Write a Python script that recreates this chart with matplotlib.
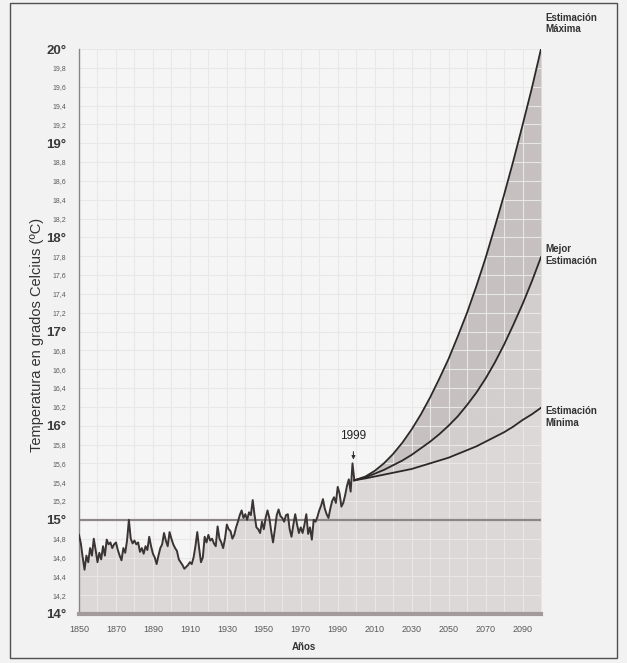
import matplotlib
matplotlib.use('Agg')
import matplotlib.pyplot as plt
from matplotlib.patches import Rectangle
from matplotlib.path import Path
import numpy as np

plt.rcParams['font.family'] = ['Liberation Sans', 'DejaVu Sans']

# ---------------- data ----------------
years_hist = list(range(1850, 2000))
temp_hist = [
    14.84, 14.75, 14.60, 14.47, 14.62, 14.55, 14.70, 14.62, 14.80, 14.68,  # 1850s
    14.55, 14.65, 14.58, 14.72, 14.62, 14.79, 14.74, 14.76, 14.70, 14.74,  # 1860s
    14.76, 14.68, 14.62, 14.57, 14.70, 14.65, 14.78, 15.00, 14.80, 14.75,  # 1870s
    14.78, 14.74, 14.76, 14.66, 14.70, 14.64, 14.72, 14.68, 14.82, 14.72,  # 1880s
    14.64, 14.60, 14.53, 14.62, 14.70, 14.74, 14.86, 14.78, 14.72, 14.87,  # 1890s
    14.80, 14.74, 14.70, 14.67, 14.58, 14.55, 14.52, 14.48, 14.50, 14.52,  # 1900s
    14.55, 14.53, 14.60, 14.72, 14.87, 14.70, 14.55, 14.60, 14.82, 14.76,  # 1910s
    14.84, 14.78, 14.80, 14.75, 14.72, 14.93, 14.80, 14.76, 14.70, 14.80,  # 1920s
    14.95, 14.90, 14.88, 14.80, 14.84, 14.92, 14.98, 15.05, 15.10, 15.02,  # 1930s
    15.06, 15.00, 15.08, 15.05, 15.21, 15.05, 14.92, 14.90, 14.86, 14.98,  # 1940s
    14.90, 15.02, 15.10, 15.02, 14.88, 14.76, 14.90, 15.05, 15.11, 15.04,  # 1950s
    15.02, 14.98, 15.05, 15.06, 14.90, 14.82, 14.95, 15.06, 14.95, 14.86,  # 1960s
    14.92, 14.86, 14.95, 15.06, 14.85, 14.92, 14.79, 15.00, 14.98, 15.03,  # 1970s
    15.10, 15.15, 15.22, 15.12, 15.06, 15.02, 15.12, 15.20, 15.24, 15.18,  # 1980s
    15.35, 15.28, 15.14, 15.18, 15.26, 15.36, 15.43, 15.30, 15.60, 15.42,  # 1990s
]

proj_years = [1999, 2005, 2010, 2015, 2020, 2025, 2030, 2035, 2040, 2045, 2050,
              2055, 2060, 2065, 2070, 2075, 2080, 2085, 2090, 2095, 2100]
est_max = [15.42, 15.46, 15.52, 15.60, 15.70, 15.82, 15.96, 16.12, 16.30, 16.50, 16.71,
           16.95, 17.20, 17.48, 17.78, 18.11, 18.45, 18.81, 19.19, 19.58, 20.00]
est_best = [15.42, 15.45, 15.49, 15.53, 15.58, 15.63, 15.69, 15.76, 15.83, 15.91, 16.00,
            16.10, 16.22, 16.35, 16.50, 16.67, 16.86, 17.07, 17.29, 17.53, 17.79]
est_min = [15.42, 15.44, 15.46, 15.48, 15.50, 15.52, 15.54, 15.57, 15.60, 15.63, 15.66,
           15.70, 15.74, 15.78, 15.83, 15.88, 15.93, 15.99, 16.06, 16.12, 16.19]

x_tick_years = list(range(1850, 2091, 20))
y_ticks = [round(14 + 0.2 * i, 1) for i in range(31)]
baseline = 15.0

# ---------------- figure ----------------
W, H = 627, 663
fig = plt.figure(figsize=(W / 100, H / 100), dpi=100)
fig.patch.set_facecolor('#f3f2f2')
fig.patches.append(Rectangle((10 / W, 1 - 658 / H), (617 - 10) / W, (658 - 3) / H,
                             transform=fig.transFigure, fill=False,
                             edgecolor='#505050', linewidth=1.0))

ax = fig.add_axes([79 / W, 1 - 614 / H, (541 - 79) / W, (614 - 49) / H])
ax.set_facecolor('#f6f5f5')
ax.set_xlim(1850, 2100)
ax.set_ylim(14, 20)

# grid (behind fills)
ax.set_xticks(x_tick_years)
ax.set_xticks(list(range(1860, 2100, 20)), minor=True)
ax.set_yticks(y_ticks)
ax.grid(which='both', axis='both', color='#e9e7e7', linewidth=0.8, zorder=0)
ax.set_axisbelow(True)

# fills
ax.fill_between(years_hist, 14, temp_hist, color='#dcd8d8', linewidth=0, zorder=1)
ax.fill_between(proj_years, 14, est_min, color='#dcd8d8', linewidth=0, zorder=1)
ax.fill_between(proj_years, est_min, est_best, color='#d3cece', linewidth=0, zorder=1)
ax.fill_between(proj_years, est_best, est_max, color='#c6c0c0', linewidth=0, zorder=1)

# lighter grid lines over filled area (clipped to filled region)
verts = [(1850, 14)] + list(zip(years_hist, temp_hist)) + list(zip(proj_years, est_max)) + [(2100, 14), (1850, 14)]
clip = Path(verts, closed=True)
gx = list(range(1860, 2100, 10))
vl = ax.vlines(gx, 14, 20, colors='#e9e6e6', linewidth=0.8, zorder=1.5)
hl = ax.hlines(y_ticks, 1850, 2100, colors='#e9e6e6', linewidth=0.8, zorder=1.5)
vl.set_clip_path(clip, ax.transData)
hl.set_clip_path(clip, ax.transData)

# 15 degree line
ax.axhline(baseline, color='#8c8686', linewidth=1.6, zorder=2)

# data lines
ax.plot(years_hist, temp_hist, color='#3a3434', linewidth=1.4, zorder=3)
ax.plot(proj_years, est_max, color='#2c2828', linewidth=1.3, zorder=3)
ax.plot(proj_years, est_best, color='#2c2828', linewidth=1.3, zorder=3)
ax.plot(proj_years, est_min, color='#2c2828', linewidth=1.3, zorder=3)

# spines
for s in ('top', 'right'):
    ax.spines[s].set_visible(False)
ax.spines['left'].set_color('#8a8484')
ax.spines['left'].set_linewidth(1.0)
ax.spines['bottom'].set_color('#a39b9b')
ax.spines['bottom'].set_linewidth(3.0)

# tick labels
ax.tick_params(axis='both', which='both', length=0)
ax.tick_params(axis='x', pad=8, labelsize=6.5, labelcolor='#5a5a5a')
ax.set_xticklabels([str(y) for y in x_tick_years])
ylabels = []
for v in y_ticks:
    if abs(v - round(v)) < 1e-6:
        ylabels.append(f"{int(round(v))}°")
    else:
        ylabels.append(f"{v:.1f}".replace('.', ','))
ax.set_yticklabels(ylabels)
ax.tick_params(axis='y', pad=9)
for lab, v in zip(ax.get_yticklabels(), y_ticks):
    if abs(v - round(v)) < 1e-6:
        lab.set_fontsize(9.5)
        lab.set_fontweight('bold')
        lab.set_color('#3a3a3a')
    else:
        lab.set_fontsize(5)
        lab.set_color('#5a5a5a')

# axis titles
fig.text(37 / W, 1 - 335 / H, 'Temperatura en grados Celcius (ºC)', rotation=90,
         ha='center', va='center', fontsize=10.5, color='#333333')
fig.text(304 / W, 1 - 647 / H, 'Años', ha='center', va='center',
         fontsize=7, fontweight='bold', color='#333333')

# annotations
ax.annotate('1999', xy=(1998.5, 15.64), xytext=(1998.5, 15.89),
            ha='center', va='center', fontsize=8.5, color='#222222',
            arrowprops=dict(arrowstyle='-|>', color='#333333', lw=0.8,
                            mutation_scale=5, shrinkA=5, shrinkB=0),
            zorder=4)
ax.text(2102.4, 20.27, 'Estimación\nMáxima', ha='left', va='center', fontsize=7,
        fontweight='bold', color='#333333', clip_on=False, linespacing=1.2)
ax.text(2102.4, 17.81, 'Mejor\nEstimación', ha='left', va='center', fontsize=7,
        fontweight='bold', color='#333333', clip_on=False, linespacing=1.2)
ax.text(2102.4, 16.09, 'Estimación\nMínima', ha='left', va='center', fontsize=7,
        fontweight='bold', color='#333333', clip_on=False, linespacing=1.2)

fig.savefig('out.png', dpi=100, facecolor=fig.get_facecolor())
